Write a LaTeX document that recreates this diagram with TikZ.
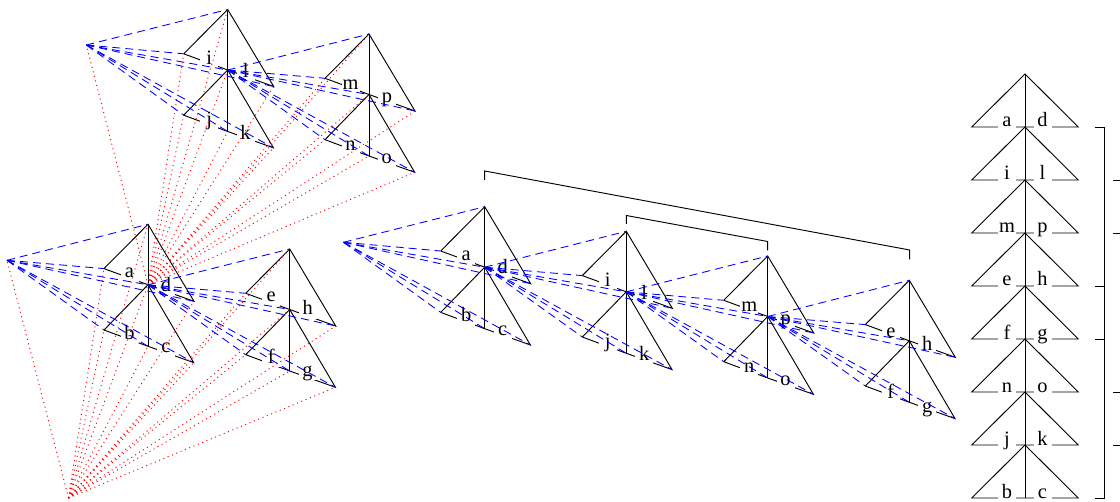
\documentclass[tikz,border=0pt]{standalone}
\usepackage{fontspec}
\setmainfont{Liberation Serif}
\usetikzlibrary{calc}
\tikzset{
  edge/.style={black,line width=0.7pt},
  lab/.style={fill=white,inner sep=0pt,minimum width=13.5pt,text height=9.5pt,text depth=3pt,anchor=base,font=\fontsize{15.3}{15.3}\selectfont},
  bluefan/.style={blue,line width=0.65pt,dash pattern=on 6pt off 3.8pt},
  redfan/.style={red,line width=0.7pt,dash pattern=on 0.8pt off 2.7pt},
  brace/.style={black,line width=0.7pt}
}
\newcommand{\ptree}[7]{%
  \coordinate (#1-T) at (#2,#3);
  \coordinate (#1-L) at (#2-44,#3+44.3);
  \coordinate (#1-C) at (#2,#3+60.5);
  \coordinate (#1-R) at (#2+46,#3+77);
  \coordinate (#1-M) at (#2-44,#3+105.7);
  \coordinate (#1-D) at (#2,#3+122);
  \coordinate (#1-S) at (#2+45.7,#3+138.3);
  \draw[edge] (#1-L) -- (#1-T) -- (#1-R) -- (#1-C) -- (#1-L);
  \draw[edge] (#1-T) -- (#1-D);
  \draw[edge] (#1-M) -- (#1-C) -- (#1-S) -- (#1-D) -- (#1-M);
  \node[lab] (#1-a) at ($(#1-L)!0.58!(#1-C)$) {#4};
  \node[lab] (#1-b) at ($(#1-C)!0.39!(#1-R)$) {#5};
  \node[lab] (#1-c) at ($(#1-M)!0.58!(#1-D)$) {#6};
  \node[lab] (#1-d) at ($(#1-D)!0.39!(#1-S)$) {#7};
}
\newcommand{\fan}[3]{%
  \foreach \k in {T,L,C,R,M,D,S}{\draw[#1] (#2) -- (#3-\k);}
}
\newcommand{\slevel}[4]{%
  \coordinate (#1-T) at (1025,#2);
  \coordinate (#1-L) at (971.7,#2+53);
  \coordinate (#1-C) at (1025,#2+53);
  \coordinate (#1-R) at (1078.3,#2+53);
  \draw[edge] (#1-T) -- (#1-L) -- (#1-R) -- cycle;
  \draw[edge] (#1-T) -- (#1-C);
  \node[lab] (#1-a) at (1007,#2+53) {#3};
  \node[lab] (#1-b) at (1042.5,#2+53) {#4};
}
\begin{document}
\begin{tikzpicture}[x=0.75pt,y=-0.75pt]
\useasboundingbox (0,0) rectangle (1120,502);
\clip (0,0) rectangle (1120,502);
% right stack
\slevel{s8}{445}{b}{c}
\slevel{s7}{392}{j}{k}
\slevel{s6}{339}{n}{o}
\slevel{s5}{286}{f}{g}
\slevel{s4}{233}{e}{h}
\slevel{s3}{180}{m}{p}
\slevel{s2}{127}{i}{l}
\slevel{s1}{74}{a}{d}
% top-left pair
\begin{scope}[lab/.append style={yshift=-1pt}]
\ptree{tA}{227.7}{9.5}{i}{l}{j}{k}
\ptree{tB}{369}{34}{m}{p}{n}{o}
\end{scope}
% lower-left pair
\ptree{bA}{148}{224.3}{a}{d}{b}{c}
\begin{scope}[lab/.append style={yshift=0.8pt}]
\ptree{bB}{289.7}{249}{e}{h}{f}{g}
\end{scope}
% middle chain
\ptree{mA}{484.7}{206.7}{a}{d}{b}{c}
\begin{scope}[lab/.append style={yshift=-1pt}]
\ptree{mB}{626.3}{231.3}{i}{l}{j}{k}
\ptree{mC}{767.7}{256}{m}{p}{n}{o}
\end{scope}
\begin{scope}[lab/.append style={yshift=-2.6pt}]
\ptree{mD}{909.3}{280.3}{e}{h}{f}{g}
\end{scope}
% free points
\coordinate (vT) at (86.3,45);
\coordinate (vB) at (7,260.3);
\coordinate (vM) at (343.5,242.3);
\coordinate (pB) at (68.5,498);
% red fans
\fan{redfan}{bA-C}{tA}
\fan{redfan}{bA-C}{tB}
\draw[redfan] (bA-C) -- (vT);
\fan{redfan}{pB}{bA}
\fan{redfan}{pB}{bB}
\draw[redfan] (pB) -- (vB);
% blue fans
\fan{bluefan}{vT}{tA}
\fan{bluefan}{tA-C}{tB}
\fan{bluefan}{vB}{bA}
\fan{bluefan}{bA-C}{bB}
\fan{bluefan}{vM}{mA}
\fan{bluefan}{mA-C}{mB}
\fan{bluefan}{mB-C}{mC}
\fan{bluefan}{mC-C}{mD}
% brackets over the chain
\coordinate (br1a) at (484.7,180);
\coordinate (br1b) at (484.7,171);
\coordinate (br1c) at (909.7,250);
\coordinate (br1d) at (909.7,259.5);
\draw[brace] (br1a) -- (br1b) -- (br1c) -- (br1d);
\coordinate (br2a) at (626.3,224);
\coordinate (br2b) at (626.3,215.5);
\coordinate (br2c) at (767.7,241.5);
\coordinate (br2d) at (767.7,250.5);
\draw[brace] (br2a) -- (br2b) -- (br2c) -- (br2d);
% right bracket
\coordinate (rbT) at (1104.7,127);
\coordinate (rbB) at (1104.7,498);
\coordinate (rbTl) at (1095,127);
\coordinate (rbBl) at (1095,498);
\draw[brace] (rbTl) -- (rbT) -- (rbB) -- (rbBl);
\draw[brace] (1095,286) -- (1104.7,286);
\draw[brace] (1095,339) -- (1104.7,339);
\foreach \y in {180,233,392,445}{\draw[brace] (1113.3,\y) -- (1120,\y);}
\end{tikzpicture}
\end{document}
